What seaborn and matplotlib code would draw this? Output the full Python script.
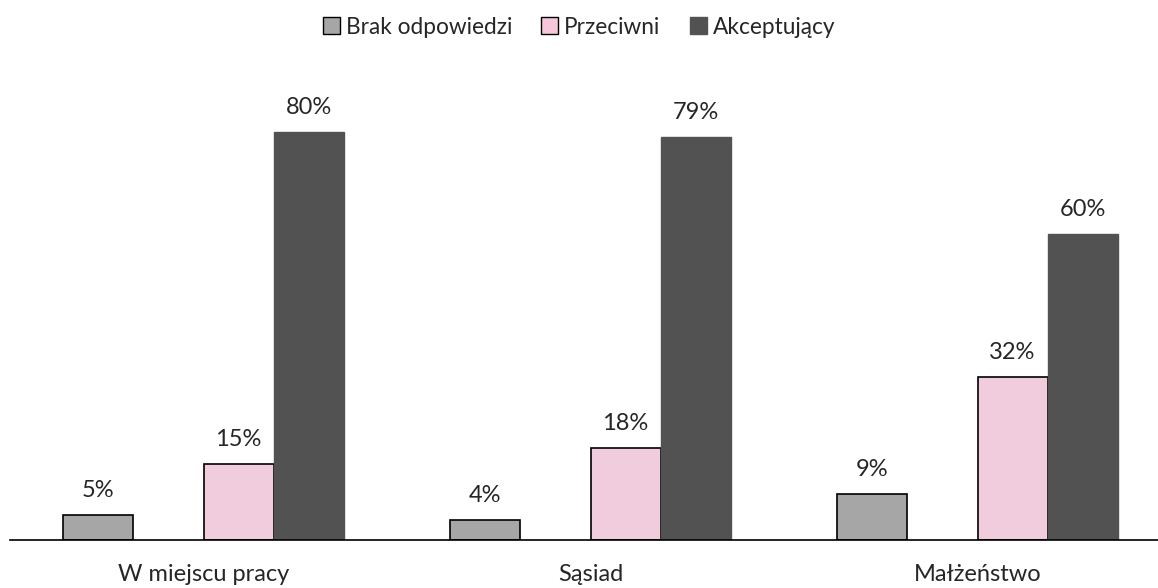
import pandas as pd
import numpy as np
import seaborn as sns
import matplotlib.pyplot as plt
from matplotlib.patches import Patch

# dane
kategorie = ["W miejscu pracy", "Sąsiad", "Małżeństwo"]
brak_odp = [5, 4, 9]
przeciwni = [15, 18, 32]
akceptujacy = [80, 79, 60]
luka = [0, 0, 0]  # pusta kolumna (odstęp jak w oryginale)

serie = ["Brak odpowiedzi", " ", "Przeciwni", "Akceptujący"]
kolory = ["#A6A6A6", "#FFFFFF", "#F6C6DC", "#525252"]

df = pd.DataFrame({
    "kategoria": kategorie * 4,
    "seria": np.repeat(serie, 3),
    "wartosc": brak_odp + luka + przeciwni + akceptujacy,
})

sns.set_theme(style="white")
plt.rcParams["font.family"] = ["Lato", "DejaVu Sans"]

fig = plt.figure(figsize=(11.58, 5.88), dpi=100)
ax = fig.add_axes([10 / 1158, 48 / 588, 1161 / 1158, 459 / 588])

sns.barplot(data=df, x="kategoria", y="wartosc", hue="seria", hue_order=serie,
            palette=kolory, width=0.725, ax=ax, legend=False, errorbar=None)

for cont, s in zip(ax.containers, serie):
    for p in cont:
        if s == " ":
            p.set_visible(False)
        elif s == "Akceptujący":
            p.set_edgecolor("#525252")
        else:
            p.set_edgecolor("black")
            p.set_linewidth(1.2)
    if s != " ":
        ax.bar_label(cont, labels=[f"{v:.0f}%" for v in cont.datavalues],
                     padding=10, fontsize=17)

ax.set_xlim(-0.5, 2.5)
ax.set_ylim(0, 90)
ax.set_xlabel("")
ax.set_ylabel("")
ax.set_yticks([])
ax.tick_params(axis="x", length=0, labelsize=17, pad=17)
for side in ["top", "right", "left"]:
    ax.spines[side].set_visible(False)
ax.spines["bottom"].set_color("black")
ax.spines["bottom"].set_linewidth(1.2)

handles = [Patch(facecolor="#A6A6A6", edgecolor="black"),
           Patch(facecolor="#F6C6DC", edgecolor="black"),
           Patch(facecolor="#525252", edgecolor="#525252")]
fig.legend(handles, ["Brak odpowiedzi", "Przeciwni", "Akceptujący"],
           loc="center", bbox_to_anchor=(0.5, 1 - 27 / 588), ncol=3, frameon=False,
           fontsize=16.3, handlelength=0.75, handleheight=0.75, handletextpad=0.25,
           columnspacing=1.3)

fig.savefig("out.png", dpi=100)
